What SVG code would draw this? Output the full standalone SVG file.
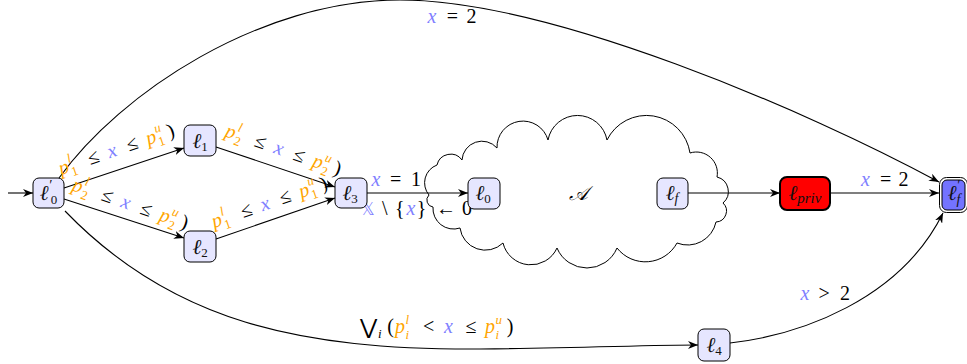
<svg xmlns="http://www.w3.org/2000/svg" width="967" height="364" viewBox="0 0 967 364">
<style>
.n{fill:#E6E6FF;stroke:#000;stroke-width:1}
.e{fill:none;stroke:#000;stroke-width:1.1}
.m{font-family:"Liberation Serif","DejaVu Serif",serif;font-size:20px;fill:#000}
.nl{font-family:"Liberation Serif","DejaVu Serif",serif;font-size:21px;font-style:italic;fill:#111;text-anchor:middle}
.i{font-style:italic}
.o{fill:#FFA500;font-style:italic}
.b{fill:#8080FF;font-style:italic}
.s{font-size:13px}
.up{font-style:normal}
</style>
<defs>
<marker id="ah" viewBox="0 0 10 8" refX="10" refY="4" markerWidth="10" markerHeight="8" markerUnits="userSpaceOnUse" orient="auto">
<path d="M0,0 L10,4 L0,8 L3,4 z" fill="#000"/>
</marker>
</defs>

<g id="cloud">
<path d="M429,195 A19,19 0 0 1 437,165 A14,14 0 0 1 462,160 A20,20 0 0 1 497,148 A26,26 0 0 1 548,140 A30,30 0 0 1 607,140 A44,44 0 0 1 690,153 A21,21 0 0 1 717,177 A15,15 0 0 1 723,203 A11,11 0 0 1 716,222 A29,29 0 0 1 677,243 A36,36 0 0 1 617,248 A32.5,32.5 0 0 1 557,248 A28.7,28.7 0 0 1 503,243 A25.5,25.5 0 0 1 460,228 A20.6,20.6 0 0 1 433,207 A7,7 0 0 1 429,195 Z" fill="#fff" stroke="#000" stroke-width="1"/>
<text x="578" y="200" font-family="DejaVu Serif, serif" font-size="20" font-style="italic" text-anchor="middle">𝒜</text>
</g>

<g id="edges">
<path class="e" d="M8,193 L33,193" marker-end="url(#ah)"/>
<path class="e" d="M64,188 L184,148" marker-end="url(#ah)"/>
<path class="e" d="M64,199 L184,238" marker-end="url(#ah)"/>
<path class="e" d="M216,147 L335,187" marker-end="url(#ah)"/>
<path class="e" d="M216,239 L335,198" marker-end="url(#ah)"/>
<path class="e" d="M367,193 L468,193" marker-end="url(#ah)"/>
<path class="e" d="M688,193 L780,193" marker-end="url(#ah)"/>
<path class="e" d="M830,193 L939,193" marker-end="url(#ah)"/>
<path class="e" d="M59,178 C120,93 260,0 400,0 C550,0 806,110 939,182" marker-end="url(#ah)"/>
<path class="e" d="M65,211 C172,322 300,350 480,349 C580,348 650,345 698,345" marker-end="url(#ah)"/>
<path class="e" d="M730,343 C800,335 900,300 943,213" marker-end="url(#ah)"/>

<g transform="translate(61,175) rotate(-19)"><text class="m"><tspan class="o" x="0" y="0">p</tspan><tspan class="o s" x="11" y="-9">l</tspan><tspan class="o s up" x="11" y="5">1</tspan><tspan x="31" y="0">≤</tspan><tspan class="b" x="51.5" y="0">x</tspan><tspan x="72" y="0">≤</tspan><tspan class="o" x="92.3" y="0">p</tspan><tspan class="o s" x="103" y="-9">u</tspan><tspan class="o s up" x="103" y="5">1</tspan><tspan x="114.7" y="0">)</tspan></text></g>
<g transform="translate(71,190) rotate(19)"><text class="m"><tspan class="o" x="0" y="0">p</tspan><tspan class="o s" x="11" y="-9">l</tspan><tspan class="o s up" x="11" y="5">2</tspan><tspan x="31" y="0">≤</tspan><tspan class="b" x="51.5" y="0">x</tspan><tspan x="72" y="0">≤</tspan><tspan class="o" x="92.3" y="0">p</tspan><tspan class="o s" x="103" y="-9">u</tspan><tspan class="o s up" x="103" y="5">2</tspan><tspan x="114.7" y="0">)</tspan></text></g>
<g transform="translate(224,136) rotate(19)"><text class="m"><tspan class="o" x="0" y="0">p</tspan><tspan class="o s" x="11" y="-9">l</tspan><tspan class="o s up" x="11" y="5">2</tspan><tspan x="31" y="0">≤</tspan><tspan class="b" x="51.5" y="0">x</tspan><tspan x="72" y="0">≤</tspan><tspan class="o" x="92.3" y="0">p</tspan><tspan class="o s" x="103" y="-9">u</tspan><tspan class="o s up" x="103" y="5">2</tspan><tspan x="114.7" y="0">)</tspan></text></g>
<g transform="translate(214,228) rotate(-19)"><text class="m"><tspan class="o" x="0" y="0">p</tspan><tspan class="o s" x="11" y="-9">l</tspan><tspan class="o s up" x="11" y="5">1</tspan><tspan x="31" y="0">≤</tspan><tspan class="b" x="51.5" y="0">x</tspan><tspan x="72" y="0">≤</tspan><tspan class="o" x="92.3" y="0">p</tspan><tspan class="o s" x="103" y="-9">u</tspan><tspan class="o s up" x="103" y="5">1</tspan><tspan x="114.7" y="0">)</tspan></text></g>

<text class="m"><tspan class="b" x="371.5" y="186">x</tspan><tspan x="390" y="186">=</tspan><tspan x="411" y="186">1</tspan></text>
<text class="m"><tspan x="361" y="215" fill="#8080FF" font-family="DejaVu Sans, sans-serif" font-size="17">𝕏</tspan><tspan x="382" y="215">\</tspan><tspan x="395" y="215">{</tspan><tspan class="b" x="406.5" y="215">x</tspan><tspan x="416.7" y="215">}</tspan><tspan x="436" y="215">←</tspan><tspan x="462" y="215">0</tspan></text>
<text class="m"><tspan class="b" x="861" y="186">x</tspan><tspan x="880" y="186">=</tspan><tspan x="898.5" y="186">2</tspan></text>
<text class="m"><tspan class="b" x="427.5" y="23">x</tspan><tspan x="446.8" y="23">=</tspan><tspan x="466.5" y="23">2</tspan></text>
<text class="m"><tspan class="b" x="800.5" y="300">x</tspan><tspan x="818.4" y="300">&gt;</tspan><tspan x="840" y="300">2</tspan></text>
<text class="m"><tspan x="360" y="334" font-family="DejaVu Sans, sans-serif" font-size="21">⋁</tspan><tspan class="s i" x="378" y="338">i</tspan><tspan x="387.2" y="333">(</tspan><tspan class="o" x="395" y="333">p</tspan><tspan class="o s" x="405.5" y="324">l</tspan><tspan class="o s" x="405.5" y="339">i</tspan><tspan x="422.9" y="333">&lt;</tspan><tspan class="b" x="444" y="333">x</tspan><tspan x="465.5" y="333">≤</tspan><tspan class="o" x="485" y="333">p</tspan><tspan class="o s" x="495.5" y="324">u</tspan><tspan class="o s" x="495.5" y="339">i</tspan><tspan x="506.7" y="333">)</tspan></text>
</g>

<g id="l0p"><rect class="n" x="33" y="178" width="31" height="30" rx="6"/><text class="nl" x="48.5" y="200">ℓ<tspan font-size="14" dy="-10">′</tspan><tspan font-size="13" font-style="normal" dx="-1" dy="14">0</tspan></text></g>
<g id="l1"><rect class="n" x="184" y="125" width="32" height="31" rx="6"/><text class="nl" x="200" y="148">ℓ<tspan font-size="13" font-style="normal" dy="3">1</tspan></text></g>
<g id="l2"><rect class="n" x="184" y="231" width="32" height="31" rx="6"/><text class="nl" x="200" y="254">ℓ<tspan font-size="13" font-style="normal" dy="3">2</tspan></text></g>
<g id="l3"><rect class="n" x="335" y="178" width="32" height="30" rx="6"/><text class="nl" x="350" y="200">ℓ<tspan font-size="13" font-style="normal" dy="3">3</tspan></text></g>
<g id="l0"><rect class="n" x="468" y="178" width="32" height="31" rx="6"/><text class="nl" x="483" y="200">ℓ<tspan font-size="13" font-style="normal" dy="3">0</tspan></text></g>
<g id="lf"><rect class="n" x="657" y="178" width="31" height="31" rx="6"/><text class="nl" x="672" y="200">ℓ<tspan font-size="14" dy="3">f</tspan></text></g>
<g id="lpriv"><rect x="780" y="177" width="50" height="33" rx="7" fill="#FF0000" stroke="#000" stroke-width="2"/><text class="nl" x="805" y="200">ℓ<tspan font-size="15" dy="3">priv</tspan></text></g>
<g id="lfp"><rect x="939.5" y="177.5" width="28" height="35" rx="7" fill="#fff" stroke="#000" stroke-width="1"/><rect x="942" y="180" width="23" height="30" rx="5" fill="#7373FF" stroke="#000" stroke-width="1"/><text class="nl" x="954" y="200">ℓ<tspan font-size="14" dy="-10">′</tspan><tspan font-size="14" dx="-3" dy="14">f</tspan></text></g>
<g id="l4"><rect class="n" x="698" y="329" width="32" height="32" rx="6"/><text class="nl" x="714" y="352">ℓ<tspan font-size="13" font-style="normal" dy="3">4</tspan></text></g>
</svg>
